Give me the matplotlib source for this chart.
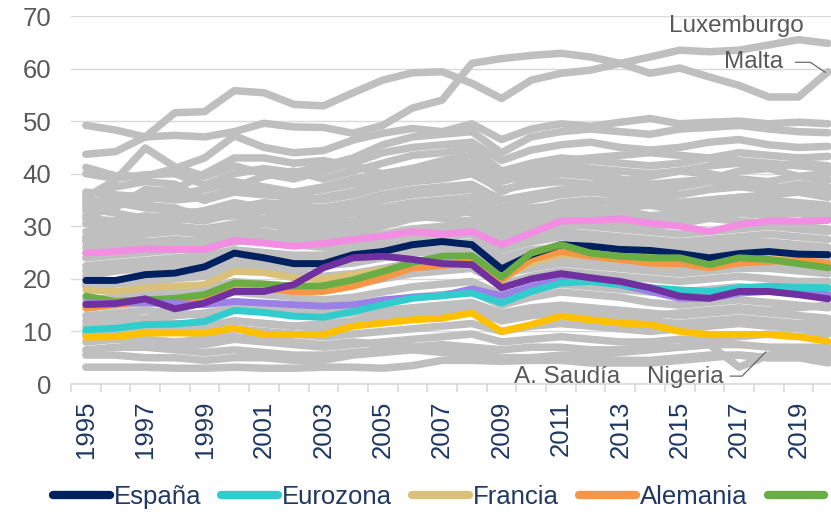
import matplotlib
matplotlib.use("Agg")
import matplotlib.pyplot as plt
import numpy as np

plt.rcParams['font.family'] = ['Liberation Sans', 'DejaVu Sans']

years = list(range(1995, 2021))

# highlighted series
espana = [19.7, 19.7, 20.8, 21.1, 22.3, 24.9, 24.0, 22.9, 22.9, 24.6, 25.2, 26.5, 27.1,
          26.5, 21.9, 24.6, 26.5, 26.2, 25.6, 25.4, 24.8, 24.0, 24.8, 25.2, 24.7, 24.6]
eurozona = [10.3, 10.6, 11.3, 11.4, 11.9, 14.0, 13.6, 12.9, 12.7, 13.8, 15.1, 16.3, 16.8,
            17.3, 15.4, 17.6, 19.2, 19.5, 18.9, 18.3, 17.9, 17.6, 18.3, 18.6, 18.4, 18.3]
francia = [17.9, 17.6, 18.3, 18.6, 18.9, 21.4, 21.2, 20.2, 20.0, 20.8, 21.7, 22.7, 23.3,
           23.3, 20.0, 23.0, 24.6, 24.4, 24.0, 23.8, 23.7, 23.3, 24.4, 24.0, 23.7, 23.0]
alemania = [14.4, 15.1, 15.7, 15.4, 16.0, 18.6, 18.3, 17.6, 17.6, 18.6, 20.2, 22.1, 22.5,
            23.3, 19.8, 23.7, 25.2, 24.3, 23.7, 23.0, 22.9, 22.1, 23.0, 23.3, 23.7, 22.9]
verde = [16.7, 15.7, 16.0, 16.3, 17.0, 19.2, 19.0, 18.6, 18.7, 19.8, 21.4, 23.1, 24.3,
         24.4, 20.3, 24.9, 26.5, 24.9, 24.3, 24.0, 24.0, 22.7, 24.0, 23.7, 22.9, 22.1]
rosa = [24.9, 25.2, 25.7, 25.6, 25.6, 27.3, 26.8, 26.2, 26.7, 27.5, 28.1, 29.0, 28.5,
        29.0, 26.5, 28.7, 31.0, 31.1, 31.4, 30.6, 30.0, 29.0, 30.3, 31.0, 31.0, 31.1]
morado = [15.1, 15.3, 16.2, 14.3, 15.4, 17.6, 17.6, 18.9, 22.1, 24.0, 24.3, 23.7, 22.9,
          22.7, 18.3, 20.0, 21.0, 20.2, 19.5, 18.3, 16.7, 16.3, 17.6, 17.6, 17.0, 16.2]
lavanda = [15.4, 15.5, 15.4, 15.3, 15.1, 15.7, 15.4, 15.1, 14.8, 15.1, 16.0, 16.5, 16.8,
           18.1, 16.8, 18.6, 19.8, 19.8, 18.9, 17.6, 16.3, 16.3, 17.3, 17.6, 17.3, 17.0]
amarillo = [8.9, 9.0, 9.7, 9.7, 9.7, 10.6, 9.4, 9.4, 9.4, 11.0, 11.6, 12.2, 12.5,
            13.5, 10.0, 11.3, 12.9, 12.2, 11.6, 11.3, 10.0, 9.4, 9.4, 9.4, 9.0, 8.1]

# grey background countries
luxemburgo = [43.7, 44.2, 47.0, 51.6, 51.8, 55.8, 55.4, 53.2, 52.9, 55.4, 57.8, 59.2, 59.4,
              57.2, 54.3, 57.8, 59.1, 59.7, 61.0, 62.2, 63.5, 63.2, 63.5, 64.5, 65.5, 64.8]
malta = [49.2, 48.3, 47.0, 47.3, 47.0, 48.0, 49.6, 48.9, 48.8, 47.7, 49.2, 52.5, 54.0,
         61.0, 61.9, 62.5, 62.9, 62.2, 61.0, 59.1, 60.1, 58.4, 56.8, 54.6, 54.6, 59.4]
nigeria = [9.5, 9.0, 8.5, 8.0, 8.5, 9.0, 8.5, 8.0, 7.5, 8.0, 7.5, 7.0, 6.5,
           6.0, 5.0, 5.0, 5.5, 5.5, 6.0, 6.5, 7.0, 7.5, 3.2, 5.5, 6.0, 5.9]
saudia = [3.2, 3.2, 3.2, 3.0, 3.0, 3.2, 3.0, 3.0, 3.2, 3.2, 3.0, 3.5, 4.5,
          4.5, 4.3, 4.5, 4.5, 4.0, 4.0, 4.0, 4.5, 5.0, 5.5, 5.0, 5.0, 4.0]
otros = [
    [41.2, 39.6, 39.5, 41.0, 43.0, 47.2, 45.0, 44.0, 44.4, 46.4, 47.7, 48.6, 48.0, 49.5, 46.5, 48.5, 49.5, 49.0, 49.8, 50.5, 49.5, 49.8, 50.0, 49.5, 49.8, 49.5],
    [40.0, 39.1, 39.8, 40.0, 37.9, 40.0, 41.0, 40.2, 41.5, 43.0, 45.5, 47.0, 47.5, 48.0, 44.0, 47.0, 48.0, 48.5, 48.0, 47.5, 48.5, 48.8, 49.2, 48.5, 48.0, 47.8],
    [35.5, 38.8, 44.9, 41.3, 39.5, 41.5, 40.0, 39.0, 40.5, 42.0, 44.0, 45.0, 45.5, 46.0, 42.5, 44.5, 45.5, 46.0, 45.0, 44.5, 45.0, 46.0, 46.5, 45.5, 45.0, 45.2],
    [36.0, 37.5, 38.5, 38.0, 34.9, 37.5, 39.5, 40.5, 39.0, 40.5, 42.0, 43.5, 44.0, 44.8, 40.5, 42.0, 43.0, 42.5, 42.0, 41.5, 42.0, 43.0, 44.0, 43.5, 43.0, 43.3],
    [34.0, 35.5, 36.0, 37.0, 40.0, 43.0, 43.0, 42.0, 42.5, 41.5, 40.0, 41.0, 42.5, 43.5, 39.0, 41.5, 42.0, 41.0, 40.5, 40.0, 40.5, 41.5, 42.0, 41.0, 39.5, 38.8],
    [33.0, 34.0, 35.0, 36.0, 37.0, 38.5, 37.5, 36.5, 37.5, 39.0, 40.0, 41.0, 41.5, 42.0, 38.5, 40.0, 41.0, 40.5, 39.0, 38.0, 38.5, 39.0, 40.5, 41.0, 42.0, 41.5],
    [32.0, 33.5, 37.0, 36.5, 35.0, 36.5, 36.0, 35.5, 35.0, 36.0, 37.5, 38.5, 39.0, 40.0, 37.0, 38.0, 38.5, 38.0, 37.5, 37.0, 37.5, 38.5, 38.0, 37.5, 37.0, 36.5],
    [35.0, 34.5, 33.5, 33.0, 32.5, 33.5, 34.0, 34.5, 35.5, 36.5, 38.0, 39.5, 40.0, 41.0, 36.5, 39.0, 40.0, 39.5, 38.5, 39.5, 40.5, 40.0, 39.0, 38.5, 39.5, 40.0],
    [36.5, 36.0, 35.5, 35.0, 35.5, 37.0, 36.5, 36.0, 37.0, 38.0, 39.0, 40.5, 41.0, 42.0, 39.5, 41.0, 42.5, 43.0, 43.5, 44.0, 43.5, 43.0, 42.5, 42.0, 41.5, 41.0],
    [30.5, 31.0, 32.0, 31.5, 31.0, 32.5, 33.0, 32.0, 31.5, 32.5, 33.5, 34.5, 35.0, 35.5, 32.5, 33.5, 34.0, 34.5, 35.0, 35.5, 34.5, 35.0, 35.5, 36.0, 36.5, 35.5],
    [28.0, 29.0, 29.5, 30.0, 29.5, 30.5, 31.5, 31.0, 30.5, 31.0, 32.0, 33.0, 33.5, 34.0, 30.5, 32.0, 33.0, 33.5, 33.0, 32.0, 32.5, 33.0, 34.0, 34.5, 34.0, 33.5],
    [27.0, 27.5, 28.5, 29.0, 28.5, 29.5, 29.0, 28.0, 27.5, 28.5, 30.0, 31.5, 32.0, 33.0, 29.0, 30.5, 31.5, 32.0, 32.5, 32.0, 31.5, 32.0, 32.5, 32.0, 32.5, 33.0],
    [33.5, 32.5, 31.5, 32.0, 33.0, 34.5, 33.5, 33.0, 32.5, 33.5, 35.0, 36.0, 36.5, 37.0, 33.5, 35.0, 36.0, 36.5, 36.0, 35.0, 34.0, 34.5, 35.5, 35.0, 34.5, 34.0],
    [29.0, 30.0, 30.5, 29.5, 28.5, 30.0, 30.5, 29.5, 29.0, 30.5, 31.5, 32.5, 33.5, 32.5, 29.5, 31.0, 32.5, 31.5, 30.5, 30.0, 30.5, 31.5, 31.0, 30.5, 30.0, 29.5],
    [26.0, 26.5, 27.0, 27.5, 27.0, 28.0, 28.5, 27.5, 27.0, 27.5, 28.5, 29.5, 30.0, 30.5, 27.5, 29.5, 30.5, 30.0, 29.5, 29.0, 28.5, 29.0, 29.5, 30.0, 29.5, 29.0],
    [31.5, 31.0, 30.5, 31.0, 32.0, 33.5, 34.5, 34.0, 33.5, 34.5, 36.0, 37.0, 37.5, 38.0, 35.0, 36.0, 37.0, 37.5, 37.0, 36.5, 36.0, 37.0, 37.5, 37.0, 38.0, 37.5],
    [24.0, 24.5, 25.0, 25.5, 26.0, 27.5, 27.0, 26.5, 26.0, 26.5, 27.5, 28.5, 29.0, 29.5, 26.5, 28.0, 29.0, 28.5, 28.0, 27.5, 27.0, 27.5, 28.0, 28.5, 28.0, 27.5],
    [22.5, 23.0, 23.5, 24.0, 24.5, 25.5, 25.0, 24.5, 24.5, 25.5, 26.5, 27.5, 28.0, 28.5, 25.5, 27.0, 28.0, 27.5, 27.0, 26.5, 26.0, 26.5, 27.0, 27.0, 26.5, 26.0],
    [34.5, 35.0, 34.0, 33.5, 31.5, 32.0, 31.5, 30.5, 30.0, 31.0, 32.5, 33.5, 34.5, 35.5, 31.5, 33.0, 34.5, 35.0, 34.5, 34.0, 33.0, 33.5, 34.5, 33.5, 32.5, 31.5],
    [20.5, 21.5, 22.0, 22.5, 23.0, 24.0, 23.5, 23.0, 22.5, 23.5, 24.5, 25.5, 26.0, 26.5, 23.0, 25.0, 26.5, 26.0, 25.5, 25.5, 26.0, 26.0, 26.5, 26.5, 26.0, 25.5],
    [27.5, 28.0, 27.0, 26.5, 26.0, 27.0, 28.0, 29.0, 30.0, 30.5, 31.0, 32.0, 31.5, 31.0, 28.0, 29.5, 30.0, 30.5, 31.0, 31.5, 32.0, 32.5, 33.0, 33.5, 33.0, 32.5],
    [25.0, 25.5, 26.0, 26.5, 27.5, 29.0, 28.5, 28.0, 28.5, 29.5, 31.0, 32.5, 33.0, 34.0, 31.0, 32.5, 33.5, 33.0, 33.5, 34.0, 34.5, 35.0, 35.5, 35.0, 34.0, 33.5],
    [21.5, 22.0, 23.0, 23.5, 24.0, 25.0, 24.5, 24.0, 23.5, 24.0, 25.0, 26.0, 26.5, 27.0, 24.0, 25.5, 26.0, 25.5, 25.0, 24.5, 24.5, 25.0, 25.5, 25.0, 24.5, 24.0],
    [19.0, 19.5, 20.0, 20.5, 21.5, 23.0, 22.5, 22.0, 22.5, 23.0, 24.0, 25.0, 25.0, 25.5, 22.5, 23.5, 24.0, 23.5, 23.0, 22.5, 22.0, 22.5, 23.0, 22.5, 22.0, 21.5],
    [18.5, 19.0, 19.5, 20.0, 20.5, 22.0, 21.5, 21.0, 20.5, 21.0, 22.0, 23.0, 23.5, 24.0, 21.0, 22.0, 23.0, 22.5, 22.0, 21.5, 21.0, 21.5, 22.0, 22.0, 21.5, 21.0],
    [16.0, 16.5, 17.0, 17.5, 18.0, 19.5, 19.0, 18.5, 18.0, 19.0, 20.0, 21.0, 21.5, 22.0, 19.0, 20.5, 21.5, 21.0, 20.5, 20.0, 19.5, 20.0, 20.5, 20.0, 19.5, 19.5],
    [14.5, 15.0, 15.5, 16.0, 16.5, 17.5, 17.0, 16.5, 16.0, 16.5, 17.5, 18.5, 19.0, 19.5, 17.0, 18.0, 19.0, 18.5, 18.0, 17.5, 17.5, 18.0, 18.5, 18.0, 17.5, 17.5],
    [13.0, 13.5, 14.0, 13.5, 13.0, 14.5, 15.0, 14.5, 14.0, 14.5, 15.5, 16.5, 17.0, 17.5, 15.0, 16.5, 17.5, 17.0, 16.5, 15.5, 15.0, 15.5, 16.0, 15.5, 15.0, 14.5],
    [12.0, 12.5, 12.5, 13.0, 13.5, 14.5, 14.0, 13.5, 13.0, 13.5, 14.0, 14.5, 15.0, 15.5, 13.5, 14.5, 15.0, 14.5, 14.0, 13.5, 13.0, 13.5, 14.0, 13.5, 13.0, 12.5],
    [11.0, 11.5, 12.0, 11.5, 11.0, 12.0, 11.5, 11.0, 10.5, 11.5, 12.5, 13.0, 13.5, 14.0, 12.0, 13.0, 13.5, 13.0, 12.5, 12.0, 11.5, 12.0, 12.5, 12.0, 11.5, 11.5],
    [9.5, 10.0, 10.5, 10.5, 11.0, 12.0, 11.5, 11.0, 11.5, 12.0, 13.0, 13.5, 14.0, 14.5, 12.5, 13.5, 14.0, 13.5, 13.0, 13.0, 13.5, 14.0, 14.5, 14.0, 14.5, 15.0],
    [10.0, 10.0, 10.5, 10.0, 9.5, 10.5, 10.0, 9.5, 9.0, 9.5, 10.0, 10.5, 11.0, 11.5, 10.0, 11.0, 11.5, 11.0, 10.5, 10.0, 10.5, 11.0, 11.5, 11.0, 10.5, 10.5],
    [8.0, 8.5, 8.0, 7.5, 7.5, 8.5, 8.0, 7.5, 7.0, 7.5, 8.0, 8.5, 9.0, 9.5, 8.0, 8.5, 9.0, 8.5, 8.0, 8.0, 8.5, 8.5, 9.0, 9.5, 9.0, 9.5],
    [6.5, 7.0, 7.0, 6.5, 6.0, 6.5, 6.0, 5.5, 5.5, 6.0, 6.5, 7.0, 7.5, 7.0, 6.5, 7.0, 7.0, 6.5, 6.5, 7.0, 7.0, 7.5, 7.5, 7.0, 7.0, 7.0],
    [5.5, 5.5, 5.0, 5.0, 4.5, 5.0, 5.0, 4.5, 4.5, 5.5, 6.0, 6.5, 6.0, 5.5, 5.0, 5.0, 5.0, 4.5, 4.5, 4.5, 5.0, 5.5, 5.5, 5.0, 5.0, 5.0],
]

gris = '#BFBFBF'
destacados = [
    (francia, '#D9C17A'), (alemania, '#F79646'), (espana, '#002060'), (verde, '#6AAD45'),
    (lavanda, '#9B80E6'), (eurozona, '#33CCCC'), (amarillo, '#FFC000'),
    (morado, '#7030A0'), (rosa, '#F38DE3'),
]

fig = plt.figure(figsize=(8.31, 5.22), dpi=100)
ax = fig.add_axes([71 / 831, 138 / 522, 772 / 831, 368 / 522])

kw = dict(solid_capstyle='round', solid_joinstyle='round')
for serie in otros + [saudia, nigeria, malta, luxemburgo]:
    ax.plot(years, serie, color=gris, lw=5.4, zorder=2, **kw)

lineas = {}
for serie, col in destacados:
    lineas[col], = ax.plot(years, serie, color=col, lw=5, zorder=3, **kw)

ax.set_xlim(1994.5, 2020.5)
ax.set_ylim(0, 70)
ax.set_yticks(range(0, 71, 10))
ax.grid(axis='y', color='#D9D9D9', lw=1, zorder=0)
ax.set_axisbelow(True)
for s in ['top', 'right', 'left']:
    ax.spines[s].set_visible(False)
ax.spines['bottom'].set_color('#D9D9D9')
ax.spines['bottom'].set_linewidth(1.2)
ax.tick_params(axis='y', length=0, labelsize=18.5, labelcolor='#595959', pad=14)

# category axis: ticks between years, labels on odd years
ax.set_xticks(np.arange(1994.5, 2021, 1))
ax.set_xticklabels([])
ax.tick_params(axis='x', which='major', length=6, color='#D9D9D9', width=1.2)
ax.set_xticks(years[::2], minor=True)
ax.set_xticklabels([str(y) for y in years[::2]], minor=True, rotation=90)
ax.tick_params(axis='x', which='minor', length=0, labelsize=18.5,
               labelcolor='#1F3864', pad=12)

# labels for some countries
txt = dict(color='#595959', fontsize=17.5)
ax.text(2016.9, 68.1, 'Luxemburgo', ha='center', va='center', clip_on=False, **txt)
ax.text(2018.5, 61.2, 'Malta', ha='right', va='center', clip_on=False, **txt)
ax.plot([2018.9, 2019.4, 2019.9], [61.2, 61.2, 59.3], color='#595959', lw=0.8,
        clip_on=False, zorder=4)
ax.text(2011.2, 1.4, 'A. Saudía', ha='center', va='center', **txt)
ax.text(2015.2, 1.4, 'Nigeria', ha='center', va='center', **txt)
ax.plot([2016.7, 2017.1, 2017.9], [1.5, 1.5, 6.1], color='#595959', lw=0.8, zorder=4)

handles = [lineas['#002060'], lineas['#33CCCC'], lineas['#D9C17A'], lineas['#F79646'],
           lineas['#6AAD45']]
labels = ['España', 'Eurozona', 'Francia', 'Alemania', '']
leg = fig.legend(handles, labels, loc='center left', bbox_to_anchor=(53 / 831, 25 / 522),
                 ncol=5, frameon=False, fontsize=18.5, handlelength=2.2,
                 handletextpad=0.15, columnspacing=0.8, borderpad=0, borderaxespad=0)
for t in leg.get_texts():
    t.set_color('#1F3864')
for h in leg.legend_handles:
    h.set_linewidth(6)

fig.savefig('out.png', dpi=100)
